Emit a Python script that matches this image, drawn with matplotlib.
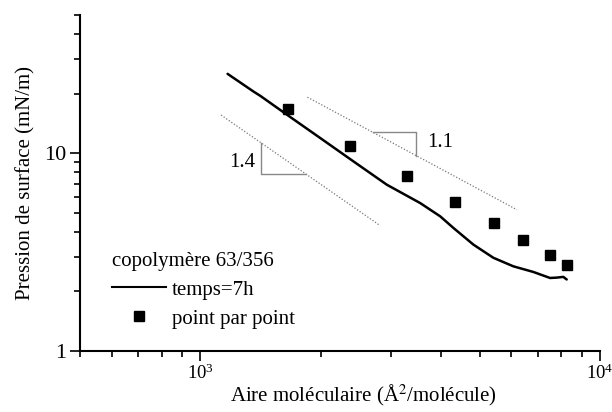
import math
import matplotlib
matplotlib.use("Agg")
import matplotlib.pyplot as plt
from matplotlib.lines import Line2D
from matplotlib.ticker import LogLocator, NullFormatter

plt.rcParams['font.family'] = ['Liberation Serif', 'DejaVu Serif']
plt.rcParams['mathtext.fontset'] = 'stix'

# Isotherm recorded continuously (temps = 7h)
curve_area = [1170, 1359, 1413, 1648, 1995, 2417, 2929, 3548, 3981, 4298,
              4823, 5411, 6071, 6812, 7499, 7795, 8095, 8254]
curve_pressure = [25.2, 20.5, 19.5, 15.65, 11.94, 9.09, 6.93, 5.60, 4.80, 4.19,
                  3.45, 2.96, 2.68, 2.51, 2.34, 2.35, 2.37, 2.30]

# Point-by-point measurements
pts_area = [1657, 2362, 3283, 4341, 5442, 6410, 7499, 8283]
pts_pressure = [16.72, 10.82, 7.67, 5.64, 4.44, 3.66, 3.05, 2.73]

# Power-law guide lines (slope annotations)
guide_hi_area = [1854, 6197]
guide_hi_pressure = [19.2, 5.18]
guide_lo_area = [1127, 2797]
guide_lo_pressure = [15.6, 4.35]
slope_hi_label = "1.1"
slope_lo_label = "1.4"

fig = plt.figure(figsize=(6.12, 4.12), dpi=100)
ax = fig.add_axes([80 / 612, 1 - 351 / 412, 520 / 612, 336 / 412])
ax.set_xscale('log')
ax.set_yscale('log')
ax.set_xlim(500, 10000)
ax.set_ylim(1, 50)

ax.plot(curve_area, curve_pressure, color='black', lw=1.8, zorder=3,
        solid_joinstyle='round', solid_capstyle='round')
ax.plot(pts_area, pts_pressure, ls='none', marker='s', ms=7.5,
        color='black', zorder=4)

ax.plot(guide_hi_area, guide_hi_pressure, color='#777777', ls=(0, (1, 1.5)), lw=0.9)
ax.plot(guide_lo_area, guide_lo_pressure, color='#777777', ls=(0, (1, 1.5)), lw=0.9)


def on_line(xs, ys, x):
    lx0, lx1 = math.log10(xs[0]), math.log10(xs[1])
    ly0, ly1 = math.log10(ys[0]), math.log10(ys[1])
    t = (math.log10(x) - lx0) / (lx1 - lx0)
    return 10 ** (ly0 + t * (ly1 - ly0))


# slope triangle on the upper guide: horizontal then vertical leg
xa, xb = 2707, 3467
ya = on_line(guide_hi_area, guide_hi_pressure, xa)
yb = on_line(guide_hi_area, guide_hi_pressure, xb)
ax.plot([xa, xb, xb], [ya, ya, yb], color='#888888', lw=1.0)
ax.text(3700, 11.3, slope_hi_label, fontsize=15, ha='left', va='center')

# slope triangle on the lower guide: vertical then horizontal leg
xc, xd = 1420, 1837
yc = on_line(guide_lo_area, guide_lo_pressure, xc)
yd = on_line(guide_lo_area, guide_lo_pressure, xd)
ax.plot([xc, xc, xd], [yc, yd, yd], color='#888888', lw=1.0)
ax.text(1370, 9.0, slope_lo_label, fontsize=15, ha='right', va='center')

for side in ('top', 'right'):
    ax.spines[side].set_visible(False)
for side in ('left', 'bottom'):
    ax.spines[side].set_linewidth(1.5)

ax.xaxis.set_major_locator(LogLocator(base=10, numticks=10))
ax.xaxis.set_minor_locator(LogLocator(base=10, subs=range(2, 10), numticks=20))
ax.yaxis.set_minor_locator(LogLocator(base=10, subs=range(2, 10), numticks=20))
ax.xaxis.set_minor_formatter(NullFormatter())
ax.yaxis.set_minor_formatter(NullFormatter())
ax.set_yticks([1, 10])
ax.set_yticklabels(['1', '10'])
ax.tick_params(which='major', length=7, width=1.2, direction='out')
ax.tick_params(which='minor', length=4, width=1.2, direction='out')
ax.tick_params(axis='x', which='major', labelsize=13.5, pad=2)
ax.tick_params(axis='y', which='major', labelsize=16, pad=3)

ax.set_xlabel('Aire moléculaire (Å$^2$/molécule)', fontsize=15, labelpad=1)
ax.xaxis.set_label_coords(0.546, -0.095)
ax.set_ylabel('Pression de surface (mN/m)', fontsize=15, labelpad=6)

handles = [Line2D([], [], color='black', lw=1.5),
           Line2D([], [], ls='none', marker='s', ms=7, color='black')]
leg = ax.legend(handles, ['temps=7h', 'point par point'],
                title='copolymère 63/356', title_fontsize=15, fontsize=15,
                loc='lower left', bbox_to_anchor=(0.045, 0.042),
                frameon=False, handlelength=2.6, handletextpad=0.3,
                labelspacing=0.45, borderaxespad=0.0, alignment='left')

fig.savefig('out.png', dpi=100)
